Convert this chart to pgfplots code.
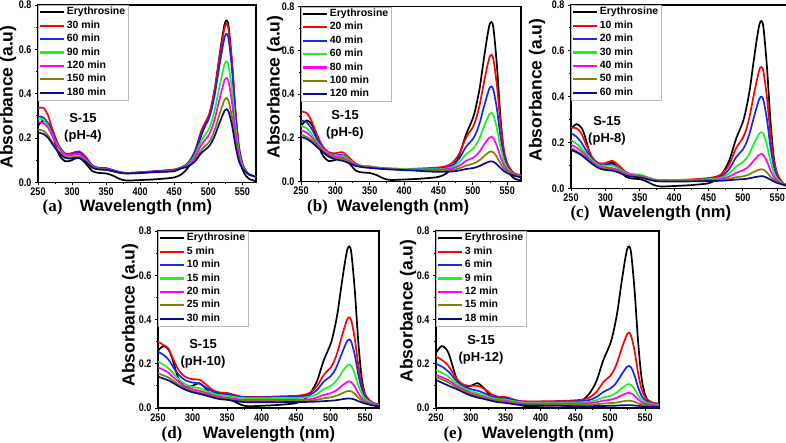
\documentclass[border=0pt]{standalone}
\usepackage{fontspec}
\setmainfont{Liberation Sans}
\newfontfamily\serifb{Liberation Serif}
\newfontfamily\tickf[FakeStretch=0.82]{Liberation Sans}
\usepackage{pgfplots}
\usepackage{pgfplotstable}
\pgfplotsset{compat=1.18}
\definecolor{cred}{RGB}{255,0,0}
\definecolor{cblue}{RGB}{20,40,240}
\definecolor{cgreen}{RGB}{30,240,30}
\definecolor{cmag}{RGB}{255,0,255}
\definecolor{colive}{RGB}{128,128,0}
\definecolor{cnavy}{RGB}{10,10,140}

\pgfplotstableread{
x k r b g m o n
250 .255 .335 .298 .287 .273 .238 .224
258 .280 .336 .292 .283 .268 .232 .218
265 .265 .300 .265 .255 .245 .210 .200
270 .230 .250 .230 .220 .215 .185 .178
280 .130 .170 .165 .160 .155 .140 .135
290 .095 .130 .128 .125 .125 .115 .110
300 .100 .132 .128 .122 .123 .113 .108
310 .112 .140 .135 .128 .128 .117 .110
320 .085 .115 .110 .102 .105 .097 .092
330 .050 .075 .075 .068 .072 .068 .065
340 .042 .064 .065 .058 .062 .060 .058
350 .040 .063 .064 .056 .060 .058 .056
360 .030 .055 .055 .050 .052 .050 .050
370 .015 .046 .046 .043 .045 .044 .043
380 .008 .042 .042 .040 .041 .040 .040
400 .010 .045 .045 .042 .043 .042 .042
420 .013 .050 .049 .046 .047 .046 .046
440 .018 .055 .053 .050 .050 .049 .048
450 .022 .058 .056 .053 .052 .051 .050
460 .035 .067 .066 .065 .064 .063 .063
470 .065 .086 .085 .080 .077 .073 .071
480 .120 .139 .134 .119 .110 .099 .093
490 .215 .235 .223 .190 .170 .146 .133
500 .290 .298 .281 .236 .209 .177 .159
505 .350 .350 .331 .276 .243 .203 .181
510 .430 .430 .404 .334 .292 .242 .214
515 .540 .533 .501 .411 .357 .292 .256
520 .645 .631 .592 .483 .418 .340 .296
524 .715 .700 .656 .534 .461 .373 .324
527 .730 .715 .670 .545 .470 .380 .330
530 .700 .684 .641 .522 .450 .364 .317
535 .530 .534 .501 .410 .355 .289 .253
540 .300 .321 .302 .251 .220 .183 .163
545 .135 .163 .155 .133 .120 .104 .095
550 .060 .087 .084 .076 .071 .065 .062
555 .030 .053 .052 .050 .048 .047 .046
560 .015 .035 .035 .035 .035 .035 .035
570 .005 .025 .025 .025 .025 .025 .025
}\ta

\pgfplotstableread{
x k r b g m o n
250 .255 .320 .280 .255 .235 .215 .205
258 .280 .315 .272 .245 .225 .205 .196
265 .265 .280 .245 .220 .205 .190 .182
270 .230 .240 .215 .195 .185 .175 .168
280 .130 .170 .160 .155 .150 .145 .140
290 .095 .135 .128 .128 .125 .120 .115
300 .100 .130 .120 .118 .115 .108 .102
310 .112 .135 .122 .118 .110 .102 .096
320 .085 .110 .100 .100 .095 .090 .085
330 .050 .082 .078 .078 .077 .075 .072
340 .042 .072 .070 .071 .070 .068 .066
350 .040 .070 .068 .070 .067 .065 .063
360 .030 .065 .064 .065 .063 .062 .060
370 .015 .062 .061 .061 .060 .060 .058
380 .008 .060 .060 .060 .058 .058 .056
400 .010 .058 .058 .058 .055 .055 .053
420 .013 .060 .058 .057 .055 .053 .050
440 .018 .063 .059 .057 .055 .051 .046
450 .022 .065 .060 .057 .055 .050 .045
460 .035 .070 .064 .060 .057 .051 .045
470 .065 .086 .075 .067 .061 .054 .047
480 .120 .127 .105 .088 .073 .061 .051
490 .215 .201 .159 .125 .095 .073 .058
500 .290 .250 .195 .150 .109 .082 .062
505 .350 .292 .225 .171 .121 .089 .066
510 .430 .353 .270 .201 .139 .099 .072
515 .540 .436 .330 .243 .163 .113 .080
520 .645 .513 .386 .281 .186 .127 .087
524 .715 .567 .426 .309 .201 .136 .092
527 .730 .580 .435 .315 .205 .138 .093
530 .700 .557 .418 .303 .198 .134 .091
535 .530 .439 .332 .243 .163 .113 .079
540 .300 .273 .211 .160 .114 .084 .063
545 .135 .149 .120 .096 .076 .060 .049
550 .060 .085 .072 .063 .054 .046 .039
555 .030 .056 .050 .045 .042 .037 .033
560 .015 .039 .036 .034 .033 .030 .027
570 .005 .029 .027 .026 .025 .023 .020
}\tb

\pgfplotstableread{
x k r b g m o n
250 .260 .265 .240 .210 .190 .175 .168
258 .280 .262 .225 .195 .178 .163 .157
265 .265 .240 .200 .175 .162 .150 .145
270 .230 .205 .175 .158 .148 .138 .133
280 .130 .140 .130 .125 .118 .112 .108
290 .095 .110 .105 .102 .097 .092 .088
300 .100 .110 .100 .097 .090 .085 .080
310 .112 .120 .105 .100 .088 .082 .077
320 .085 .098 .088 .085 .078 .072 .068
330 .050 .070 .068 .066 .062 .058 .055
340 .042 .060 .060 .060 .057 .053 .050
350 .040 .058 .057 .060 .055 .050 .047
360 .030 .048 .048 .050 .046 .043 .040
370 .015 .038 .038 .040 .037 .035 .033
380 .008 .035 .035 .036 .034 .032 .030
400 .010 .036 .035 .036 .034 .032 .030
420 .013 .038 .036 .037 .035 .033 .030
440 .018 .042 .038 .038 .036 .034 .031
450 .022 .045 .040 .040 .037 .035 .032
460 .035 .050 .044 .042 .038 .035 .032
470 .065 .064 .054 .048 .042 .037 .033
480 .120 .103 .083 .065 .051 .041 .035
490 .215 .174 .135 .094 .067 .048 .038
500 .290 .220 .170 .114 .078 .052 .040
505 .350 .258 .198 .130 .087 .056 .041
510 .430 .317 .242 .155 .100 .062 .044
515 .540 .394 .299 .188 .118 .070 .047
520 .645 .467 .353 .218 .135 .077 .050
524 .715 .518 .391 .240 .147 .082 .052
527 .730 .530 .400 .245 .150 .083 .053
530 .700 .508 .384 .236 .145 .081 .052
535 .530 .397 .301 .188 .118 .069 .046
540 .300 .240 .184 .120 .079 .051 .038
545 .135 .122 .096 .069 .050 .037 .030
550 .060 .063 .051 .041 .033 .028 .023
555 .030 .037 .031 .028 .024 .022 .019
560 .015 .020 .018 .018 .017 .016 .014
570 .005 .014 .012 .012 .011 .011 .010
}\tc

\pgfplotstableread{
x k r b g m o n
250 .260 .300 .255 .210 .185 .157 .142
258 .280 .285 .240 .195 .172 .147 .133
265 .265 .270 .220 .180 .160 .138 .125
270 .230 .235 .195 .163 .145 .128 .117
280 .130 .170 .150 .130 .118 .106 .098
290 .095 .140 .125 .107 .097 .088 .082
300 .100 .130 .115 .095 .085 .077 .071
310 .112 .128 .110 .090 .078 .070 .064
320 .085 .105 .092 .077 .068 .061 .056
330 .050 .080 .073 .064 .057 .051 .047
340 .042 .070 .065 .058 .050 .045 .040
350 .040 .068 .062 .055 .047 .042 .037
360 .030 .060 .056 .050 .042 .037 .032
370 .015 .052 .050 .046 .038 .033 .028
380 .008 .050 .048 .044 .036 .031 .026
400 .010 .050 .048 .044 .036 .031 .026
420 .013 .052 .049 .045 .036 .031 .026
440 .018 .054 .050 .045 .037 .032 .027
450 .022 .055 .050 .045 .037 .032 .027
460 .035 .059 .053 .047 .038 .032 .027
470 .065 .069 .060 .051 .040 .034 .028
480 .120 .098 .081 .063 .047 .037 .029
490 .215 .149 .119 .085 .059 .044 .031
500 .290 .183 .144 .100 .067 .048 .033
505 .350 .211 .164 .112 .074 .052 .034
510 .430 .254 .196 .130 .083 .057 .036
515 .540 .311 .237 .154 .097 .064 .039
520 .645 .364 .276 .177 .109 .071 .041
524 .715 .401 .304 .193 .118 .076 .043
527 .730 .410 .310 .197 .120 .077 .043
530 .700 .394 .298 .190 .116 .075 .042
535 .530 .312 .238 .154 .096 .064 .038
540 .300 .195 .152 .103 .067 .047 .031
545 .135 .107 .087 .064 .045 .034 .025
550 .060 .062 .052 .041 .031 .025 .020
555 .030 .040 .035 .030 .024 .020 .016
560 .015 .025 .023 .020 .017 .014 .012
570 .005 .017 .015 .014 .011 .010 .008
}\td

\pgfplotstableread{
x k r b g m o n
250 .250 .232 .200 .172 .149 .140 .127
258 .280 .218 .188 .160 .140 .130 .115
265 .265 .200 .172 .148 .130 .120 .105
270 .230 .180 .158 .137 .122 .112 .098
280 .130 .130 .120 .110 .100 .093 .085
290 .095 .105 .098 .090 .083 .077 .070
300 .100 .100 .085 .075 .067 .062 .056
310 .112 .100 .078 .066 .058 .053 .047
320 .085 .085 .066 .056 .049 .045 .040
330 .050 .062 .053 .046 .040 .037 .032
340 .042 .050 .046 .040 .035 .032 .026
350 .040 .050 .044 .038 .033 .029 .023
360 .030 .040 .037 .032 .027 .024 .018
370 .015 .032 .030 .027 .022 .020 .014
380 .008 .030 .028 .025 .020 .018 .012
400 .010 .030 .028 .025 .020 .017 .011
420 .013 .031 .029 .025 .020 .016 .010
440 .018 .033 .030 .025 .020 .015 .009
450 .022 .035 .030 .025 .020 .015 .008
460 .035 .038 .032 .026 .020 .015 .008
470 .065 .047 .036 .028 .022 .016 .008
480 .120 .072 .049 .035 .026 .017 .009
490 .215 .116 .072 .047 .033 .020 .009
500 .290 .145 .088 .055 .037 .022 .010
505 .350 .169 .100 .062 .041 .023 .010
510 .430 .206 .120 .071 .047 .025 .011
515 .540 .255 .145 .085 .055 .028 .012
520 .645 .300 .169 .097 .062 .031 .012
524 .715 .332 .186 .106 .067 .033 .013
527 .730 .340 .190 .108 .068 .033 .013
530 .700 .326 .183 .104 .066 .032 .013
535 .530 .257 .146 .085 .055 .028 .011
540 .300 .158 .094 .058 .039 .021 .010
545 .135 .085 .055 .037 .026 .017 .008
550 .060 .050 .036 .026 .020 .014 .007
555 .030 .034 .027 .022 .017 .012 .006
560 .015 .025 .021 .018 .014 .011 .006
570 .005 .019 .017 .014 .011 .008 .004
}\te

\pgfplotsset{
  pl/.style={line width=1.7pt, smooth, tension=0.5},
  uv/.style={
    scale only axis, anchor=south west,
    xmin=250, xmax=570, ymin=0, ymax=0.8,
    xtick={250,300,350,400,450,500,550},
    ytick={0,0.2,0.4,0.6,0.8},
    minor x tick num=1, minor y tick num=1,
    tick align=outside, tick pos=left,
    major tick length=3pt, minor tick length=1.8pt,
    every tick/.style={black, line width=0.9pt},
    axis line style={line width=1.2pt},
    /pgf/number format/assume math mode=true,
    tick label style={font=\tickf\bfseries\fontsize{11}{11}\selectfont},
    xticklabel style={yshift=1pt},
    yticklabel style={/pgf/number format/.cd, fixed, fixed zerofill, precision=1},
    legend image code/.code={\draw[#1, line width=2.2pt] (0pt,0pt) -- (24pt,0pt);},
    legend style={at={(0,1)}, anchor=north west, draw=gray!55,
      fill=white, font=\bfseries\fontsize{10.5}{11}\selectfont,
      inner xsep=1pt, inner ysep=1pt, row sep=1.2pt,
      nodes={inner sep=1.5pt, text height=0.72em, text depth=0.2em},
      cells={anchor=west}},
  },
}

\newcommand\curves[1]{%
  \addplot[black, pl] table[x=x, y=k] {#1};
  \addplot[cred, pl] table[x=x, y=r] {#1};
  \addplot[cblue, pl] table[x=x, y=b] {#1};
  \addplot[cgreen, pl] table[x=x, y=g] {#1};
  \addplot[cmag, pl] table[x=x, y=m] {#1};
  \addplot[colive, pl] table[x=x, y=o] {#1};
  \addplot[cnavy, pl] table[x=x, y=n] {#1};
}

\begin{document}
\begin{tikzpicture}
\path[use as bounding box, fill=white] (0pt,0pt) rectangle (786pt,443pt);

% (a)
\begin{axis}[uv, at={(38pt,260.7pt)}, width=218pt, height=177.3pt]
\curves{\ta}
\legend{Erythrosine, 30 min, 60 min, 90 min, 120 min, 150 min, 180 min}
\end{axis}
% (b)
\begin{axis}[uv, at={(301pt,261.3pt)}, width=220pt, height=175pt]
\curves{\tb}
\legend{Erythrosine, 20 min, 40 min, 60 min, 80 min, 100 min, 120 min}
\end{axis}
% (c)
\begin{axis}[uv, at={(571pt,254.7pt)}, width=220pt, height=183.3pt]
\curves{\tc}
\legend{Erythrosine, 10 min, 20 min, 30 min, 40 min, 50 min, 60 min}
\end{axis}
% (d)
\begin{axis}[uv, at={(158pt,35pt)}, width=221pt, height=177pt]
\curves{\td}
\legend{Erythrosine, 5 min, 10 min, 15 min, 20 min, 25 min, 30 min}
\end{axis}
% (e)
\begin{axis}[uv, at={(436pt,35pt)}, width=223pt, height=177pt]
\curves{\te}
\legend{Erythrosine, 3 min, 6 min, 9 min, 12 min, 15 min, 18 min}
\end{axis}

% axis titles
\tikzset{yl/.style={rotate=90, font=\bfseries\fontsize{17.5}{18}\selectfont},
         xl/.style={font=\bfseries\fontsize{16.5}{17}\selectfont},
         pl2/.style={font=\serifb\bfseries\fontsize{17}{17}\selectfont},
         ann/.style={align=center, font=\bfseries\fontsize{13}{17}\selectfont}}
\node[yl] at (8pt,346pt) {Absorbance (a.u)};
\node[yl] at (275pt,356pt) {Absorbance (a.u)};
\node[yl] at (537pt,353pt) {Absorbance (a.u)};
\node[yl] at (130pt,128pt) {Absorbance (a.u)};
\node[yl] at (408pt,132pt) {Absorbance (a.u)};

\node[pl2] at (52.5pt,236pt) {(a)};
\node[xl] at (146pt,236pt) {Wavelength (nm)};
\node[pl2] at (317.5pt,236pt) {(b)};
\node[xl] at (403pt,236pt) {Wavelength (nm)};
\node[pl2] at (580pt,230pt) {(c)};
\node[xl] at (665pt,230pt) {Wavelength (nm)};
\node[pl2] at (172pt,9pt) {(d)};
\node[xl] at (269pt,9pt) {Wavelength (nm)};
\node[pl2] at (453pt,9pt) {(e)};
\node[xl] at (548pt,9pt) {Wavelength (nm)};

\node[ann] at (83pt,315.5pt) {S-15\\(pH-4)};
\node[ann] at (345pt,318pt) {S-15\\(pH-6)};
\node[ann] at (607pt,312pt) {S-15\\(pH-8)};
\node[ann] at (203pt,89.5pt) {S-15\\(pH-10)};
\node[ann] at (481pt,93pt) {S-15\\(pH-12)};
\end{tikzpicture}
\end{document}
